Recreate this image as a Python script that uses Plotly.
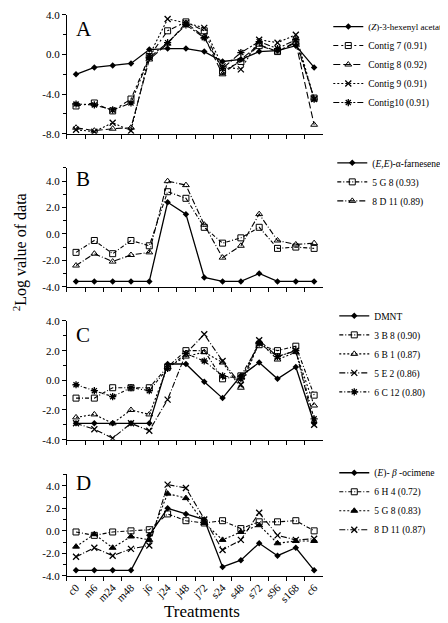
import plotly.graph_objects as go

W, H = 448, 623
FONT = "Liberation Serif"

treatments = ["c0", "m6", "m24", "m48", "j6", "j24", "j48", "j72", "s24", "s48", "s72", "s96", "s168", "c6"]

# Panel A
a_hexenyl = [-2.0, -1.3, -1.1, -0.9, 0.5, 0.6, 0.6, 0.3, -0.7, -0.5, 0.3, 0.4, 0.9, -1.3]
a_contig7 = [-5.2, -4.9, -5.7, -4.5, -0.2, 2.4, 3.3, 2.4, -1.7, -0.7, 0.9, 0.3, 1.3, -4.4]
a_contig8 = [-7.4, -7.7, -7.5, -7.4, -0.5, 1.1, 3.2, 1.8, -2.0, -0.5, 1.0, 0.3, 1.2, -7.1]
a_contig9 = [-7.6, -7.8, -6.9, -7.7, -0.1, 3.6, 3.2, 2.7, -1.2, -1.5, 1.5, 1.2, 2.0, -4.5]
a_contig10 = [-5.0, -5.1, -5.6, -4.9, -0.3, 1.2, 3.0, 1.7, -1.4, 0.2, 1.3, 0.6, 1.5, -4.5]

# Panel B
b_farnesene = [-3.6, -3.6, -3.6, -3.6, -3.6, 2.4, 1.5, -3.3, -3.6, -3.6, -3.0, -3.6, -3.6, -3.6]
b_5g8 = [-1.4, -0.5, -1.5, -0.5, -0.9, 3.2, 2.7, 0.5, -0.7, -0.3, 0.5, -1.1, -1.0, -1.1]
b_8d11 = [-2.4, -1.5, -2.1, -1.6, -1.4, 4.0, 3.7, 0.7, -1.8, -0.9, 1.5, -0.5, -0.8, -0.7]

# Panel C
c_dmnt = [-2.9, -2.9, -2.9, -2.9, -2.9, 1.1, 1.1, -0.1, -1.2, 0.3, 1.2, 0.1, 0.9, -2.9]
c_3b8 = [-1.2, -1.2, -0.5, -0.5, -0.5, 0.9, 2.0, 2.0, 0.1, 0.3, 2.4, 2.0, 2.3, -1.0]
c_6b1 = [-2.5, -2.3, -2.9, -2.0, -2.3, 0.9, 1.6, 1.9, 1.2, -0.5, 2.6, 1.4, 1.9, -1.7]
c_5e2 = [-2.9, -3.3, -3.9, -2.9, -3.4, -1.3, 1.8, 3.1, 1.3, -0.3, 2.7, 1.6, 2.0, -3.0]
c_6c12 = [-0.3, -0.7, -1.1, -0.5, -0.7, 0.8, 1.8, 1.3, 0.3, 0.1, 2.5, 1.6, 2.0, -2.6]

# Panel D
d_ocimene = [-3.5, -3.5, -3.5, -3.5, -0.4, 2.0, 1.5, 1.0, -3.2, -2.6, -1.1, -2.2, -1.5, -3.5]
d_6h4 = [-0.1, -0.4, -0.1, 0.0, 0.1, 1.5, 0.9, 0.7, 0.9, 0.2, 0.8, 0.8, 0.9, 0.0]
d_5g8 = [-1.4, -0.3, -1.5, -0.5, -0.8, 3.3, 2.9, 0.7, -0.8, -0.1, 0.5, -1.1, -0.9, -0.9]
d_8d11 = [-2.3, -1.5, -2.2, -1.6, -1.3, 4.1, 3.8, 1.0, -1.7, -0.8, 1.6, -0.4, -0.8, -0.7]

a_ticks = [-8, -4, 0, 4]
a_ticktext = ["-8.0", "-4.0", "0.0", "4.0"]
bcd_ticks = [-4, -2, 0, 2, 4]
bcd_ticktext = ["-4.0", "-2.0", "0.0", "2.0", "4.0"]

panel_letters = ["A", "B", "C", "D"]
# pixel geometry (top, bottom) of each panel's plotting area
panels_px = [(1, 122), (157, 278), (313, 434), (469.5, 573)]
yranges = [[-8, 4], [-4, 5], [-4, 4], [-4, 5]]
x_px = (58, 315)


def px_x(p):
    return p / W


def px_y(p):
    return 1 - p / H


fig = go.Figure()

DIAMOND = dict(symbol="diamond", size=5, color="black")
SQUARE = dict(symbol="square-open", size=6, color="black", line=dict(width=1, color="black"))
TRI = dict(symbol="triangle-up-open", size=6, color="black", line=dict(width=1, color="black"))
TRI_F = dict(symbol="triangle-up", size=6, color="black", line=dict(width=1, color="black"))
XMK = dict(symbol="x-thin-open", size=6, color="black", line=dict(width=1.3, color="black"))
AST = dict(symbol="asterisk-open", size=6, color="black", line=dict(width=1.3, color="black"))

series = [
    # panel, name, values, marker, dash
    (1, "<span style='font-size:9px'>(<i>Z</i>)-3-hexenyl acetate</span>", a_hexenyl, DIAMOND, "solid"),
    (1, "Contig 7 (0.91)", a_contig7, SQUARE, "5px,3px,2px,3px"),
    (1, "Contig 8 (0.92)", a_contig8, TRI, "7px,3px"),
    (1, "Contig 9 (0.91)", a_contig9, XMK, "2px,2px"),
    (1, "Contig10 (0.91)", a_contig10, AST, "6px,2px,2px,2px"),
    (2, "(<i>E,E</i>)-α-farnesene", b_farnesene, DIAMOND, "solid"),
    (2, "5 G 8 (0.93)", b_5g8, SQUARE, "4px,2px,1px,2px"),
    (2, "8 D 11 (0.89)", b_8d11, TRI, "6px,2px,1px,2px"),
    (3, "DMNT", c_dmnt, DIAMOND, "solid"),
    (3, "3 B 8 (0.90)", c_3b8, SQUARE, "4px,2px,1px,2px"),
    (3, "6 B 1 (0.87)", c_6b1, TRI, "2px,2px"),
    (3, "5 E 2 (0.86)", c_5e2, XMK, "6px,2px,1px,2px"),
    (3, "6 C 12 (0.80)", c_6c12, AST, "3px,2px,1px,2px"),
    (4, "(<i>E</i>)- <i>β</i> -ocimene", d_ocimene, DIAMOND, "solid"),
    (4, "6 H 4 (0.72)", d_6h4, SQUARE, "4px,2px,1px,2px"),
    (4, "5 G 8 (0.83)", d_5g8, TRI_F, "2px,2px"),
    (4, "8 D 11 (0.87)", d_8d11, XMK, "6px,2px,1px,2px"),
]

for p, name, vals, mk, dash in series:
    suffix = "" if p == 1 else str(p)
    fig.add_trace(go.Scatter(
        x=treatments, y=vals, name=name, mode="lines+markers",
        line=dict(color="black", width=1.3 if dash == "solid" else 1.1, dash=dash),
        marker=mk,
        xaxis="x" + suffix, yaxis="y" + suffix,
        legend="legend" + suffix,
    ))

layout = dict(
    width=W, height=H, margin=dict(l=0, r=0, t=0, b=0),
    paper_bgcolor="white", plot_bgcolor="white",
    font=dict(family=FONT, size=11, color="black"),
)

legend_tops = [-2, 137, 293, 453]
legend_x = [320, 324, 326, 326]
for i in range(4):
    suffix = "" if i == 0 else str(i + 1)
    top, bot = panels_px[i]
    yr = yranges[i]
    layout["xaxis" + suffix] = dict(
        domain=[px_x(x_px[0]), px_x(x_px[1])],
        anchor="y" + suffix,
        type="category", categoryorder="array", categoryarray=treatments,
        range=[-0.5, len(treatments) - 0.5],
        showline=True, linecolor="black", linewidth=1,
        ticks="outside", ticklen=4, tickcolor="black", tickson="boundaries",
        showticklabels=(i == 3), tickangle=-45,
        tickfont=dict(family=FONT, size=11),
        showgrid=False, zeroline=False,
    )
    layout["yaxis" + suffix] = dict(
        domain=[px_y(bot), px_y(top)],
        anchor="x" + suffix,
        range=yr,
        tickvals=a_ticks if i == 0 else bcd_ticks,
        ticktext=a_ticktext if i == 0 else bcd_ticktext,
        showline=True, linecolor="black", linewidth=1,
        ticks="outside", ticklen=4, tickcolor="black",
        minor=dict(ticks="outside", ticklen=3, dtick=2 if i == 0 else 1, tick0=0, tickcolor="black"),
        tickfont=dict(family=FONT, size=11),
        showgrid=False, zeroline=False,
    )
    layout["legend" + suffix] = dict(
        x=px_x(legend_x[i]), y=px_y(legend_tops[i]), xanchor="left", yanchor="top",
        bgcolor="rgba(0,0,0,0)", font=dict(family=FONT, size=9.5),
        tracegroupgap=0, itemwidth=30,
    )

fig.update_layout(**layout)

letter_y = [15, 168, 327, 478]
for i, L in enumerate(panel_letters):
    fig.add_annotation(text=L, x=px_x(65), y=px_y(letter_y[i]), xref="paper", yref="paper",
                       xanchor="left", yanchor="middle", showarrow=False,
                       font=dict(family=FONT, size=21))

fig.add_annotation(text="<sup>2</sup>Log value of data", x=px_x(11), y=px_y(243),
                   xref="paper", yref="paper", textangle=-90, showarrow=False,
                   xanchor="center", yanchor="middle", font=dict(family=FONT, size=16))
fig.add_annotation(text="Treatments", x=px_x(193), y=px_y(609),
                   xref="paper", yref="paper", showarrow=False,
                   xanchor="center", yanchor="middle", font=dict(family=FONT, size=17))

fig.write_html("out.html")
